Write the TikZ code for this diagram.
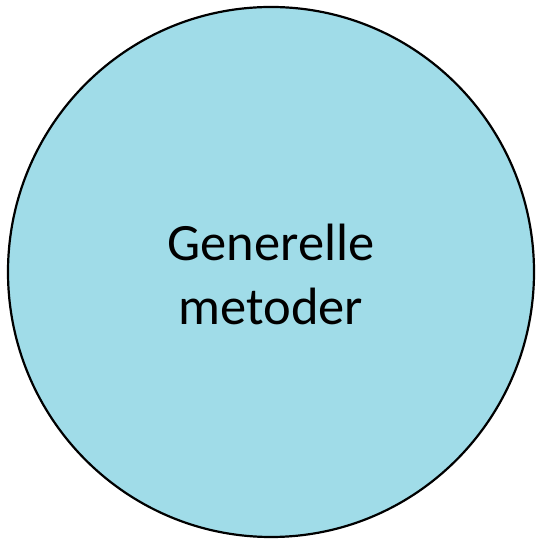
\documentclass[tikz,border=0pt]{standalone}
\usepackage{fontspec}
\setmainfont{Carlito}
\usepackage{xcolor}
\usepackage{tikz}
\usetikzlibrary{positioning,shapes}

\definecolor{discblue}{HTML}{A0DCE8}

\begin{document}
\begin{tikzpicture}[x=1pt, y=1pt,
    disc/.style={%
      ellipse, draw=black, line width=2.2pt, fill=discblue,
      minimum width=526pt, minimum height=530pt, inner sep=0pt
    },
    lbl/.style={%
      draw=none, align=center, inner sep=0pt,
      font=\fontsize{52.5}{64}\selectfont
    }
]
    \useasboundingbox (0,0) rectangle (535,540);
    \node[disc] (disc) at (271,268) {};
    \node[lbl]  (lbl)  at (disc.center) [yshift=-2pt] {Generelle\\metoder};
\end{tikzpicture}
\end{document}
